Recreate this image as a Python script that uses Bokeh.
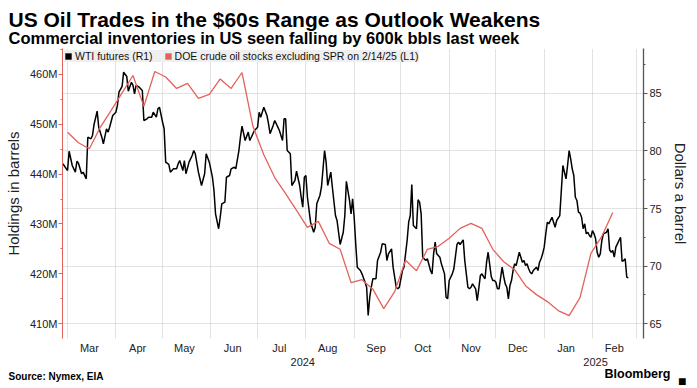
import pandas as pd
from bokeh.plotting import figure
from bokeh.models import (Range1d, LinearAxis, DatetimeAxis, FixedTicker, DatetimeTickFormatter,
                          PrintfTickFormatter, Title, Legend, LegendItem)
from bokeh.embed import file_html
from bokeh.resources import INLINE

# ---------------- data ----------------
wti_start = "2024-02-27"
# calendar-day offsets from wti_start
wti_day = [
    0, 3, 4, 6, 8, 9, 10, 12, 13, 15,
    16, 18, 19, 20, 22, 23, 25, 26, 28, 29,
    30, 32, 34, 35, 36, 38, 39, 41, 42, 44,
    45, 46, 47, 49, 51, 52, 54, 55, 57, 58,
    60, 61, 62, 64, 65, 66, 68, 69, 71, 73,
    74, 75, 77, 78, 79, 81, 83, 84, 85, 87,
    89, 91, 92, 94, 96, 97, 98, 100, 101, 102,
    104, 105, 107, 108, 110, 111, 113, 114, 115, 117,
    119, 120, 122, 123, 125, 126, 127, 129, 131, 132,
    133, 135, 136, 138, 139, 141, 142, 143, 144, 146,
    147, 149, 150, 152, 153, 154, 155, 156, 157, 159,
    161, 162, 163, 165, 166, 168, 169, 170, 172, 173,
    175, 176, 178, 180, 181, 182, 184, 185, 186, 187,
    188, 189, 191, 192, 194, 195, 196, 197, 198, 199,
    201, 202, 204, 205, 207, 208, 209, 211, 212, 214,
    215, 216, 218, 219, 221, 222, 223, 224, 225, 227,
    228, 229, 230, 231, 233, 234, 236, 237, 238, 239,
    240, 242, 243, 245, 246, 247, 248, 250, 251, 253,
    254, 255, 257, 258, 259, 260, 261, 262, 263, 265,
    266, 267, 268, 269, 270, 271, 272, 273, 275, 276,
    277, 278, 279, 280, 282, 283, 284, 285, 286, 287,
    288, 289, 290, 291, 293, 294, 295, 296, 297, 298,
    299, 300, 301, 302, 304, 305, 306, 307, 308, 309,
    310, 311, 312, 313, 314, 315, 316, 317, 319, 320,
    321, 322, 323, 324, 325, 326, 327, 328, 329, 330,
    331, 332, 333, 334, 335, 336, 337, 338, 339, 340,
    341, 342, 343, 344, 345, 346, 347, 349, 350, 351,
    352, 353, 354, 355, 356, 357, 358, 359, 360, 361,
    362, 363,
]
# WTI futures, dollars a barrel
wti_price = [
    78.89, 78.30, 79.98, 78.74, 78.16, 79.11, 78.94, 78.02, 78.16, 77.58,
    81.20, 81.06, 81.35, 82.30, 83.46, 82.07, 81.20, 80.63, 81.93, 81.64,
    82.07, 83.09, 83.37, 83.96, 85.11, 85.61, 86.85, 86.48, 85.20, 85.98,
    85.70, 84.97, 85.70, 85.55, 85.26, 82.65, 82.80, 82.94, 82.94, 83.37,
    82.94, 83.67, 83.81, 82.50, 81.93, 79.03, 78.83, 78.16, 78.45, 78.45,
    78.89, 79.17, 78.30, 79.17, 78.02, 79.03, 79.61, 80.04, 79.76, 78.16,
    77.00, 78.02, 79.76, 79.03, 77.72, 76.57, 74.54, 73.24, 74.24, 75.41,
    75.55, 77.72, 77.87, 78.45, 78.59, 78.45, 80.04, 81.20, 82.16, 80.91,
    81.64, 80.91, 81.50, 81.78, 82.07, 83.37, 82.94, 83.81, 83.09, 82.37,
    81.50, 82.22, 82.65, 82.07, 81.78, 80.91, 82.80, 82.80, 80.04, 79.76,
    77.00, 77.44, 78.24, 77.00, 75.98, 75.11, 77.72, 77.87, 75.98, 73.81,
    72.94, 73.37, 75.41, 76.13, 76.85, 80.04, 79.03, 77.00, 78.16, 76.85,
    74.39, 73.96, 71.87, 72.94, 74.39, 77.37, 75.70, 74.54, 75.84, 74.24,
    71.93, 69.90, 69.61, 69.32, 68.59, 68.16, 65.70, 67.29, 68.16, 68.89,
    68.89, 70.48, 71.20, 71.93, 71.87, 70.48, 71.06, 71.50, 69.90, 68.16,
    68.02, 68.16, 69.61, 69.90, 72.22, 73.81, 74.39, 77.09, 73.52, 73.24,
    75.76, 75.55, 74.54, 70.77, 70.48, 70.63, 69.61, 69.32, 71.06, 72.07,
    71.06, 70.77, 70.19, 69.32, 67.29, 67.15, 68.74, 69.32, 69.76, 71.87,
    72.07, 71.87, 72.28, 70.48, 69.32, 68.16, 68.02, 68.16, 68.45, 68.02,
    67.00, 68.04, 69.17, 69.32, 69.09, 68.89, 70.33, 71.20, 69.09, 68.74,
    68.74, 68.59, 68.02, 68.02, 69.90, 69.09, 68.45, 68.16, 67.15, 68.30,
    68.74, 69.61, 70.19, 70.04, 71.20, 70.77, 70.33, 70.48, 70.04, 70.19,
    69.76, 69.46, 69.32, 69.61, 69.90, 69.61, 70.33, 70.63, 71.06, 71.64,
    72.80, 73.81, 73.67, 73.96, 74.24, 73.81, 73.37, 73.96, 74.39, 76.57,
    78.74, 78.16, 77.58, 78.74, 80.04, 79.32, 78.45, 77.87, 75.98, 75.70,
    74.68, 74.59, 74.24, 73.24, 73.67, 72.80, 72.94, 72.65, 72.50, 73.09,
    72.80, 72.37, 71.20, 70.77, 71.06, 72.22, 72.80, 72.94, 73.24, 71.41,
    71.20, 71.35, 70.77, 71.64, 71.93, 72.22, 72.50, 70.42, 70.48, 70.63,
    69.03, 68.97,
]

# DOE commercial crude stocks ex SPR, millions of barrels, weekly
doe_start = "2024-03-01"
doe_stocks_m = [
    448.4, 446.3, 445.1, 449.4, 452.8, 456.3, 459.8, 453.6, 460.6, 459.5,
    457.2, 458.2, 455.2, 456.0, 459.1, 457.2, 460.4, 449.6, 443.9, 439.3,
    436.1, 432.7, 429.3, 430.5, 426.1, 424.9, 418.2, 418.8, 416.9, 413.0,
    416.4, 422.7, 420.6, 424.9, 425.5, 427.1, 429.1, 430.1, 429.1, 424.9,
    422.4, 420.8, 417.6, 415.8, 414.4, 412.6, 411.6, 415.2, 424.1, 427.5,
    432.3,
]

price_ticks = [65, 70, 75, 80, 85]
price_minor = [62.5, 67.5, 72.5, 77.5, 82.5, 87.5]
stock_ticks = [410, 420, 430, 440, 450, 460]
stock_minor = [405, 415, 425, 435, 445, 455, 465]
year_label_dates = ["2024-07-30", "2025-02-03"]

title = "US Oil Trades in the $60s Range as Outlook Weakens"
subtitle = "Commercial inventories in US seen falling by 600k bbls last week"
legend_labels = ["WTI futures (R1)", "DOE crude oil stocks excluding SPR on 2/14/25 (L1)"]
source_text = "Source: Nymex, EIA"
brand_text = "Bloomberg"

# ---------------- build ----------------
def ms(ts):
    return pd.Timestamp(ts).timestamp() * 1000.0

assert len(wti_day) == len(wti_price)
wti_dates = pd.Timestamp(wti_start) + pd.to_timedelta(wti_day, unit="D")
doe_dates = pd.date_range(doe_start, periods=len(doe_stocks_m), freq="7D")

month_starts = pd.date_range("2024-03-01", "2025-03-01", freq="MS")
mid_months = [d + pd.Timedelta(days=14) for d in month_starts[:-1]]

SANS = "Liberation Sans"
RED = "#e4625c"
TXT = "#222222"
NAN = float("nan")

p = figure(width=697, height=388, x_axis_type="datetime", y_axis_location="right",
           x_range=Range1d(ms("2024-02-26 18:00"), ms("2025-03-05 18:00")),
           y_range=Range1d(63.70, 88.91),
           output_backend="svg", toolbar_location=None,
           min_border_left=62, min_border_right=54, min_border_top=48, min_border_bottom=50)
p.extra_y_ranges = {"stocks": Range1d(406.99, 465.22)}
p.outline_line_color = None
p.background_fill_color = "white"
p.border_fill_color = "white"

# title + subtitle (later-added title sits farther from the frame)
p.add_layout(Title(text=subtitle, align="left", offset=-54, text_font=SANS,
                   text_font_size="16.5px", text_font_style="bold", text_color="#000000",
                   standoff=3), "above")
p.add_layout(Title(text=title, align="left", offset=-54, text_font=SANS,
                   text_font_size="21px", text_font_style="bold", text_color="#000000",
                   standoff=-11), "above")

p.xgrid.ticker = FixedTicker(ticks=[ms(d) for d in month_starts])
p.ygrid.ticker = FixedTicker(ticks=price_ticks)
for g in (p.xgrid[0], p.ygrid[0]):
    g.grid_line_color = "#c4c4c4"
    g.grid_line_dash = "1 1"
    g.grid_line_width = 1

# right axis (dollars)
ry = p.yaxis[0]
ry.ticker = FixedTicker(ticks=price_ticks, minor_ticks=price_minor)
ry.axis_line_color = "#555555"
ry.axis_line_width = 1.3
ry.major_tick_line_color = "#555555"
ry.major_tick_in = 0
ry.major_tick_out = 4
ry.minor_tick_line_color = "#555555"
ry.minor_tick_in = 0
ry.minor_tick_out = 2
ry.major_label_text_font = SANS
ry.major_label_text_font_size = "11px"
ry.major_label_text_color = TXT
ry.major_label_standoff = 2
ry.axis_label = "Dollars a barrel"
ry.axis_label_text_font = SANS
ry.axis_label_text_font_size = "15px"
ry.axis_label_text_font_style = "normal"
ry.axis_label_text_color = TXT
ry.axis_label_standoff = 7

# left axis (holdings)
ly = LinearAxis(y_range_name="stocks",
                ticker=FixedTicker(ticks=stock_ticks, minor_ticks=stock_minor),
                formatter=PrintfTickFormatter(format="%dM"))
ly.axis_line_color = RED
ly.axis_line_width = 1
ly.major_tick_line_color = RED
ly.major_tick_in = 0
ly.major_tick_out = 4
ly.minor_tick_line_color = RED
ly.minor_tick_in = 0
ly.minor_tick_out = 2
ly.major_label_text_font = SANS
ly.major_label_text_font_size = "11px"
ly.major_label_text_color = TXT
ly.major_label_standoff = 1
ly.axis_label = "Holdings in barrels"
ly.axis_label_text_font = SANS
ly.axis_label_text_font_size = "15px"
ly.axis_label_text_font_style = "normal"
ly.axis_label_text_color = TXT
ly.axis_label_standoff = 5
p.add_layout(ly, "left")

fmt_b = "%b"
xa = p.xaxis[0]
xa.ticker = FixedTicker(ticks=[ms(d) for d in mid_months])
xa.formatter = DatetimeTickFormatter(microseconds=fmt_b, milliseconds=fmt_b, seconds=fmt_b,
                                     minsec=fmt_b, minutes=fmt_b, hourmin=fmt_b, hours=fmt_b,
                                     days=fmt_b, months=fmt_b, years=fmt_b)
fmt_y = "%Y"
ya = DatetimeAxis(ticker=FixedTicker(ticks=[ms(d) for d in year_label_dates]),
                  formatter=DatetimeTickFormatter(microseconds=fmt_y, milliseconds=fmt_y,
                                                  seconds=fmt_y, minsec=fmt_y, minutes=fmt_y,
                                                  hourmin=fmt_y, hours=fmt_y, days=fmt_y,
                                                  months=fmt_y, years=fmt_y))
p.add_layout(ya, "below")
for ax, so in ((xa, 3), (ya, 1)):
    ax.axis_line_color = None
    ax.major_tick_line_color = None
    ax.minor_tick_line_color = None
    ax.major_tick_in = 0
    ax.major_tick_out = 0
    ax.minor_tick_out = 0
    ax.major_label_text_font = SANS
    ax.major_label_text_font_size = "11px"
    ax.major_label_text_color = TXT
    ax.major_label_standoff = so

# footer: brand (right) then source and logo pulled up onto the same row
p.add_layout(Title(text=brand_text, align="right", offset=-27, text_font=SANS,
                   text_font_size="12.5px", text_font_style="bold", text_color="#000000",
                   vertical_align="bottom", standoff=-7), "below")
p.add_layout(Title(text=source_text, align="left", offset=-54, text_font=SANS,
                   text_font_size="10px", text_font_style="bold", text_color="#000000",
                   vertical_align="top", standoff=-13), "below")
p.add_layout(Title(text="\u25A0", align="right", offset=-43, text_font=SANS,
                   text_font_size="14px", text_color="#000000",
                   vertical_align="top", standoff=-8.6), "below")

# series
p.line(wti_dates, wti_price, color="black", line_width=1.5)
p.line(doe_dates, doe_stocks_m, y_range_name="stocks", color=RED, line_width=1.3)

# legend with square swatches (swatch renderers carry no drawable point)
sw_wti = p.quad(left=[NAN], right=[NAN], top=[NAN], bottom=[NAN],
                fill_color="black", line_color=None)
sw_doe = p.quad(left=[NAN], right=[NAN], top=[NAN], bottom=[NAN],
                fill_color=RED, line_color=None)
legend = Legend(items=[LegendItem(label=legend_labels[0], renderers=[sw_wti]),
                       LegendItem(label=legend_labels[1], renderers=[sw_doe])],
                orientation="horizontal", location="top_left", margin=2, padding=4,
                spacing=11, glyph_width=8, glyph_height=8, label_standoff=3,
                label_height=12, label_text_font=SANS, label_text_font_size="10.5px",
                label_text_color="#111111", background_fill_color="#efefef",
                background_fill_alpha=1.0, border_line_color=None)
p.add_layout(legend)

open("out.html", "w").write(file_html(p, INLINE))
